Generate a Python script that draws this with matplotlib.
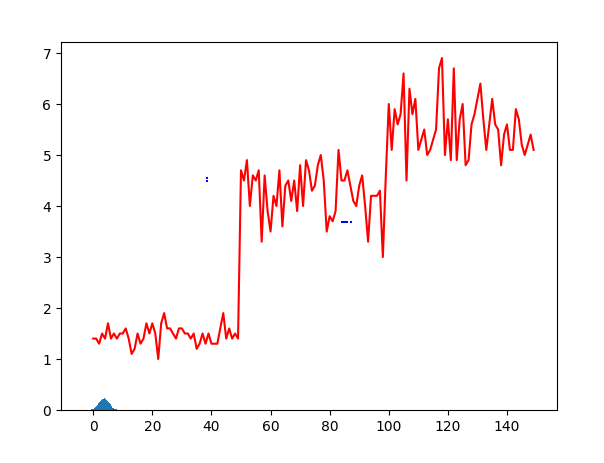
import numpy as np
import matplotlib.pyplot as plt

# red series, one value per step
red_y = [1.4, 1.4, 1.3, 1.5, 1.4, 1.7, 1.4, 1.5, 1.4, 1.5,
         1.5, 1.6, 1.4, 1.1, 1.2, 1.5, 1.3, 1.4, 1.7, 1.5,
         1.7, 1.5, 1.0, 1.7, 1.9, 1.6, 1.6, 1.5, 1.4, 1.6,
         1.6, 1.5, 1.5, 1.4, 1.5, 1.2, 1.3, 1.5, 1.3, 1.5,
         1.3, 1.3, 1.3, 1.6, 1.9, 1.4, 1.6, 1.4, 1.5, 1.4,
         4.7, 4.5, 4.9, 4.0, 4.6, 4.5, 4.7, 3.3, 4.6, 3.9,
         3.5, 4.2, 4.0, 4.7, 3.6, 4.4, 4.5, 4.1, 4.5, 3.9,
         4.8, 4.0, 4.9, 4.7, 4.3, 4.4, 4.8, 5.0, 4.5, 3.5,
         3.8, 3.7, 3.9, 5.1, 4.5, 4.5, 4.7, 4.4, 4.1, 4.0,
         4.4, 4.6, 4.0, 3.3, 4.2, 4.2, 4.2, 4.3, 3.0,
         4.6, 6.0, 5.1, 5.9, 5.6, 5.8, 6.6, 4.5, 6.3, 5.8,
         6.1, 5.1, 5.3, 5.5, 5.0, 5.1, 5.3, 5.5, 6.7, 6.9,
         5.0, 5.7, 4.9, 6.7, 4.9, 5.7, 6.0, 4.8, 4.9, 5.6,
         5.8, 6.1, 6.4, 5.7, 5.1, 5.6, 6.1, 5.6, 5.5, 4.8,
         5.4, 5.6, 5.1, 5.1, 5.9, 5.7, 5.2, 5.0, 5.2, 5.4,
         5.1]
red_x = np.arange(len(red_y))

# histogram (density) bars
hist_heights = [0.006, 0.010, 0.016, 0.025, 0.034, 0.050, 0.063, 0.087, 0.104, 0.133,
                0.152, 0.182, 0.197, 0.219, 0.224, 0.232, 0.228, 0.213, 0.203, 0.176,
                0.158, 0.128, 0.109, 0.083, 0.066, 0.047, 0.036, 0.022, 0.016, 0.010,
                0.006]
bin_edges = np.arange(-1.0, 8.31, 0.3)

# small blue marks
blue_x = [38.4, 38.4, 84.2, 84.5, 84.8, 85.1, 85.4, 85.7, 87.3]
blue_y = [4.50, 4.54, 3.68, 3.68, 3.68, 3.68, 3.68, 3.68, 3.68]

fig = plt.figure(figsize=(6.04, 4.63), dpi=100)
ax = fig.add_axes([61 / 604, 53 / 463, 495.5 / 604, 368 / 463])

ax.bar(bin_edges[:-1], hist_heights, width=0.3, align='edge', color='#1f77b4')
ax.plot(red_x, red_y, color='r')
ax.plot(blue_x, blue_y, 's', color='b', markersize=1.5, markeredgewidth=0)

ax.set_xlim(-10.9, 156.75)
ax.set_ylim(0, 7.216)

plt.savefig('out.png', dpi=100)
